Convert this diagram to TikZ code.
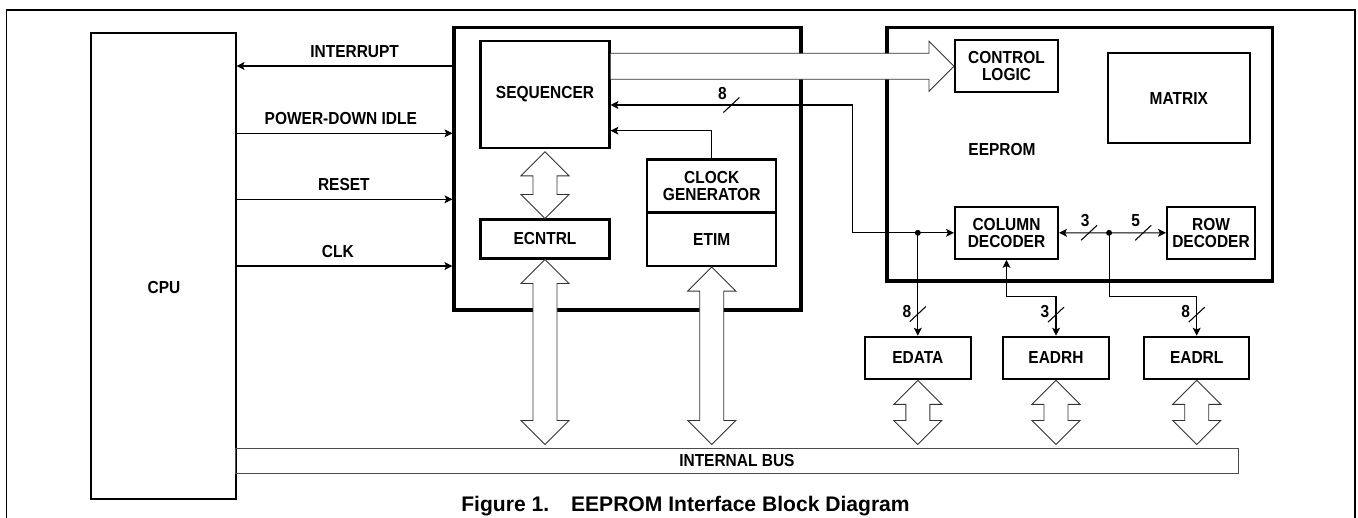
\documentclass[tikz,border=0pt]{standalone}
\usepackage{fontspec}
\setmainfont{Liberation Sans}[FakeStretch=0.89]
\newfontfamily\capfont{Liberation Sans}
\usetikzlibrary{calc,arrows.meta}
\newcommand\lblsize{\fontsize{9.9pt}{9.8pt}\selectfont}
\tikzset{
  box/.style={draw, line width=1.15pt, inner sep=0pt, align=center, font=\bfseries\lblsize},
  block/.style={draw, line width=1.8pt, inner sep=0pt},
  bus/.style={draw=black!70, line width=0.6pt, inner sep=0pt, font=\bfseries\lblsize},
  sz/.style 2 args={minimum width=#1*0.02cm, minimum height=#2*0.02cm},
  lbl/.style={inner sep=0pt, font=\bfseries\lblsize},
  sig/.style={line width=0.6pt, -{Stealth[length=4.5pt,width=4.5pt,inset=1pt]}},
  both/.style={line width=0.6pt, {Stealth[length=4.5pt,width=4.5pt,inset=1pt]}-{Stealth[length=4.5pt,width=4.5pt,inset=1pt]}},
  fat/.style={draw=black!80, fill=white, line width=0.5pt, line join=miter}
}
% two-headed wide arrow, top tip #1, bottom tip #2
\newcommand\fatbus[2]{\draw[fat] (#1) -- ++(24,24) -- ++(-12,0) -- ($(#2)+(12,-24)$) -- ++(12,0) -- (#2)
  -- ++(-24,-24) -- ++(12,0) -- ($(#1)+(-12,24)$) -- ++(-12,0) -- cycle;}
% bus width mark
\newcommand\wid[3]{\draw[line width=0.6pt] ($(#1)+(-8,7.5)$) -- ($(#1)+(8,-7.5)$);
  \node[lbl] at ($(#1)+(#3)$) {#2};}
\begin{document}
\begin{tikzpicture}[x=0.02cm, y=-0.02cm]
      \useasboundingbox (0,0) rectangle (1358,517);
      \draw[line width=1.1pt] (6.5,530) -- (6.5,10) -- (1355,10) -- (1355,530);
      \node[box, sz={144.5}{466}] (cpu) at (163.3,266) {};
      \node[lbl] at (164,288) {CPU};
      \node[block, sz={347}{282.5}] (ctrl) at (627.5,168.8) {};
      \node[box, sz={129}{107.6}] (seq) at (545,94.5) {SEQUENCER};
      \node[box, sz={129}{39}] (ecntrl) at (545,239) {ECNTRL};
      \node[box, sz={128.7}{53}] (clk) at (711.7,186) {CLOCK\\GENERATOR};
      \node[box, sz={128.7}{53.5}] (etim) at (711.7,239.3) {ETIM};
      \node[block, sz={385.3}{253.3}] (eeprom) at (1079.7,154.3) {};
      \node[lbl] at (1002,149.3) {EEPROM};
      \node[box, sz={103}{52}] (ctl) at (1006.5,66.3) {CONTROL\\LOGIC};
      \node[box, sz={141.5}{90}] (matrix) at (1178.8,98.3) {MATRIX};
      \node[box, sz={103}{52.3}] (coldec) at (1006.5,232.8) {COLUMN\\DECODER};
      \node[box, sz={88}{52.3}] (rowdec) at (1211,232.8) {ROW\\DECODER};
      \node[box, sz={105.7}{42.6}] (edata) at (917.8,358) {EDATA};
      \node[box, sz={106}{42.6}] (eadrh) at (1056,358) {EADRH};
      \node[box, sz={105.3}{42.6}] (eadrl) at (1196.7,358) {EADRL};
      \node[bus, sz={1002.8}{25.5}] (ibus) at (736.9,460.8) {INTERNAL BUS};
      \node[font=\capfont\bfseries\fontsize{12pt}{12pt}\selectfont, inner sep=0pt, anchor=base] (cap)
        at (685.5,511.7) {Figure 1.\hspace{1.04em}EEPROM Interface Block Diagram};
      \coordinate (r1) at (0,66);
      \coordinate (r2) at (0,133.3);
      \coordinate (r3) at (0,199.3);
      \coordinate (r4) at (0,266);
      \coordinate (r5) at (0,130.7);
      \coordinate (bend) at (852.3,105);
      \coordinate (j) at (0,296.7);
      \begin{scope}
        \draw[sig] (ctrl.west |- r1) -- node[lbl, pos=0.453, yshift=8.3pt] {INTERRUPT} (cpu.east |- r1);
        \draw[sig] (cpu.east |- r2) -- node[lbl, pos=0.483, yshift=8.3pt] {POWER-DOWN IDLE} (ctrl.west |- r2);
        \draw[sig] (cpu.east |- r3) -- node[lbl, pos=0.497, yshift=8.3pt] {RESET} (ctrl.west |- r3);
        \draw[sig] (cpu.east |- r4) -- node[lbl, pos=0.469, yshift=8.3pt] {CLK} (ctrl.west |- r4);
        \draw[sig] (clk.north) |- (seq.east |- r5);
        \draw[both] (seq.east |- bend) -- coordinate[pos=0.5] (w1) (bend) |- (coldec.west);
        \coordinate (d1) at (edata.north |- coldec.west);
        \coordinate (d2) at ($(coldec.east)!0.468!(rowdec.west)$);
        \draw[sig] (d1) -- coordinate[pos=0.79] (w2) (edata.north);
        \draw[sig] (d2) -- coordinate[pos=0.4] (w3) (coldec.east);
        \draw[sig] (d2) -- coordinate[pos=0.6] (w4) (rowdec.west);
        \draw[both] (coldec.south) |- (eadrh.north |- j) -- coordinate[pos=0.46] (w5) (eadrh.north);
        \draw[sig] (d2) |- (eadrl.north |- j) -- coordinate[pos=0.46] (w6) (eadrl.north);
        \fill (d1) circle (1.7pt);
        \fill (d2) circle (1.7pt);
      \end{scope}
      \wid{w1}{8}{-9,-11}
      \wid{w2}{8}{-11,-3}
      \wid{w3}{3}{-4,-12}
      \wid{w4}{5}{-7.5,-12}
      \wid{w5}{3}{-11,-3}
      \wid{w6}{8}{-11,-3}
      \draw[fat] ($(seq.east |- ctl.west)+(0,-13)$) -- ($(ctl.west)+(-25,-13)$) -- ++(0,-12) -- (ctl.west)
        -- ++(-25,25) -- ++(0,-12) -- ($(seq.east |- ctl.west)+(0,13)$);
      \coordinate (b1) at ($(ecntrl.south |- ibus.north)+(0,-3)$);
      \coordinate (b2) at ($(etim.south |- ibus.north)+(0,-3)$);
      \coordinate (b3) at ($(edata.south |- ibus.north)+(0,-3)$);
      \coordinate (b4) at ($(eadrh.south |- ibus.north)+(0,-3)$);
      \coordinate (b5) at ($(eadrl.south |- ibus.north)+(0,-3)$);
      \coordinate (s1) at ($(seq.south)+(0,2.5)$);
      \fatbus{s1}{ecntrl.north}
      \fatbus{ecntrl.south}{b1}
      \fatbus{etim.south}{b2}
      \fatbus{edata.south}{b3}
      \fatbus{eadrh.south}{b4}
      \fatbus{eadrl.south}{b5}
    \end{tikzpicture}
\end{document}
